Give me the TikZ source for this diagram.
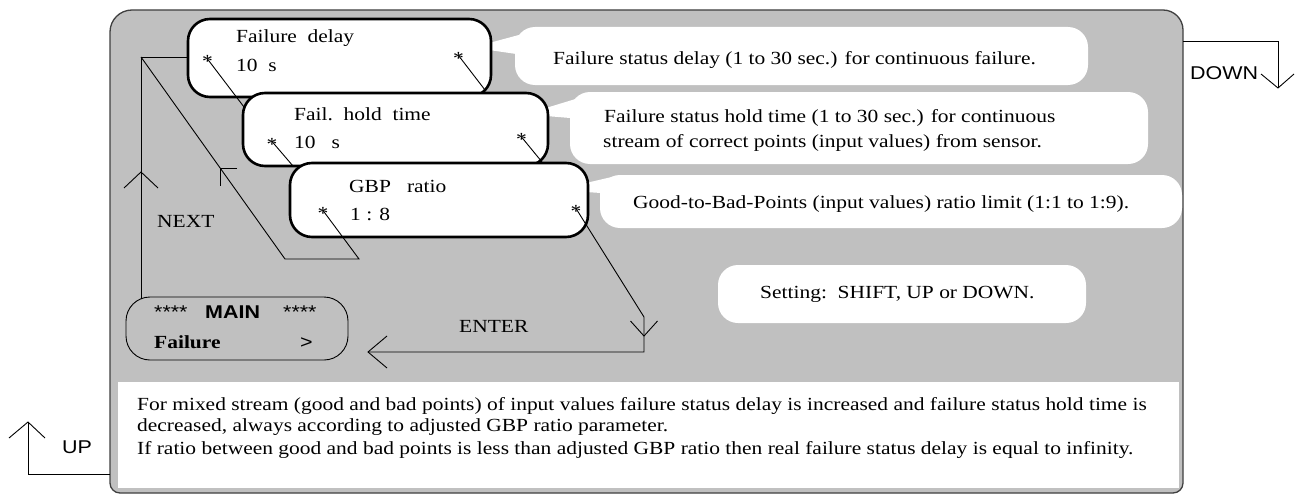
\documentclass[tikz,border=0pt]{standalone}
\usepackage{fontspec}
\setmainfont[FakeStretch=1.16]{Liberation Serif}
\setsansfont[FakeStretch=1.16]{Liberation Sans}
\usetikzlibrary{calc}
\definecolor{panelgray}{HTML}{C0C0C0}
\definecolor{edgegray}{HTML}{404040}
\begin{document}
\begin{tikzpicture}[x=1pt,y=-1pt,
  menubox/.style={draw=black,line width=2.6pt,fill=white,rounded corners=22pt,inner sep=0pt},
  mainbox/.style={draw=black,line width=0.9pt,rounded corners=24pt,inner sep=0pt},
  bubble/.style={fill=white,rounded corners=20pt,inner sep=0pt},
  notebox/.style={fill=white,inner sep=0pt},
  wire/.style={draw=black,line width=0.9pt},
  txt/.style={inner sep=0pt,anchor=base west,font=\fontsize{18.5}{22}\selectfont},
  stxt/.style={inner sep=0pt,anchor=base west,font=\sffamily\fontsize{18.5}{22}\selectfont},
  startxt/.style={inner sep=0pt,anchor=base,font=\fontsize{18.5}{22}\selectfont},
]
\useasboundingbox (0,0) rectangle (1301,495);
% outer panel
\path[fill=panelgray,draw=edgegray,line width=1.3pt] (600,10) [rounded corners=20pt] -- (1183,10) -- (1183,250) [rounded corners=10pt] -- (1183,493) -- (110,493) -- (110,250) [rounded corners=22pt] -- (110,10) -- cycle;
% bottom note
\node[notebox,minimum width=1061pt,minimum height=106pt] (note) at (648.5,435) {};
% callouts
\node[bubble,minimum width=573pt,minimum height=58pt] (c1) at (801.5,56) {};
\fill[white] (489,43) -- (530,32) -- (530,56) -- (489,50) -- cycle;
\node[bubble,minimum width=578pt,minimum height=72pt] (c2) at (859,128) {};
\fill[white] (546,108) -- (582,97) -- (582,119) -- (546,116) -- cycle;
\node[bubble,minimum width=582pt,minimum height=53pt] (c3) at (891,201.5) {};
\fill[white] (586,183) -- (616,176) -- (616,194) -- (586,192) -- cycle;
\node[bubble,minimum width=368pt,minimum height=58pt] (c4) at (902,294) {};
% menu boxes
\node[menubox,minimum width=303pt,minimum height=78pt] (fd) at (339.5,58) {};
\node[menubox,minimum width=305pt,minimum height=73pt] (fh) at (395.5,129.5) {};
\node[menubox,minimum width=298pt,minimum height=74pt] (gbp) at (439,200) {};
\node[mainbox,minimum width=222pt,minimum height=63pt] (main) at (237,328.5) {};
% star marks (centres)
\coordinate (s1L) at (207.5,59);
\coordinate (s1R) at (458.5,55.5);
\coordinate (s2L) at (272,141.5);
\coordinate (s2R) at (521.5,137);
\coordinate (s3L) at (323,210.5);
\coordinate (s3R) at (576,208.5);
\coordinate (e1L) at (244,107);
\coordinate (e1R) at (485,90);
\coordinate (e2L) at (293,166);
\coordinate (e2R) at (542,162);
\coordinate (e3L) at (359,259);
\coordinate (gbpcorner) at (285,259);
\coordinate (nextcorner) at (141,57);
\coordinate (nextfoot) at (141,299);
\coordinate (nexttip) at (141,172);
\coordinate (ent1) at (644,317);
\coordinate (ent2) at (644,352);
\coordinate (entend) at (368,352);
\coordinate (enttip) at (644,336);
\coordinate (dn0) at (1183,41);
\coordinate (dn1) at (1278,41);
\coordinate (dn2) at (1278,88);
\coordinate (up0) at (110,474);
\coordinate (up1) at (28,474);
\coordinate (up2) at (28,422);
% connectors
\draw[wire] (s1L) -- (e1L);
\draw[wire] (s1R) -- (e1R);
\draw[wire] (s2L) -- (e2L);
\draw[wire] (s2R) -- (e2R);
\draw[wire] (s3L) -- (e3L) -- (gbpcorner) -- (nextcorner);
\coordinate (dtip) at ($(nextcorner)!0.55!(gbpcorner)$);
\draw[wire] ($(dtip)+(17,0)$) -- (dtip) -- ($(dtip)+(0,18)$);
\draw[wire] (nextfoot) -- (nextcorner) -- (fd.west |- nextcorner);
\draw[wire] ($(nexttip)+(-17,16)$) -- (nexttip) -- ($(nexttip)+(17,16)$);
\draw[wire] (s3R) -- (ent1) -- (ent2) -- (entend);
\draw[wire] ($(enttip)+(-13.5,-15)$) -- (enttip) -- ($(enttip)+(13.5,-15)$);
\draw[wire] ($(entend)+(19,-16)$) -- (entend) -- ($(entend)+(19,16)$);
\draw[wire] (dn0) -- (dn1) -- (dn2);
\draw[wire] ($(dn2)+(-17,-14)$) -- (dn2) -- ($(dn2)+(16,-14)$);
\draw[wire] (up0) -- (up1) -- (up2);
\draw[wire] ($(up2)+(-19,16)$) -- (up2) -- ($(up2)+(17,16)$);
% stars
\foreach \s in {s1L,s1R,s2L,s2R,s3L,s3R} {
  \node[startxt] (\s t) at ($(\s)+(0,8.7)$) {*};
}
% box texts
\node[txt] (t1a) at (236,43) {Failure~~delay};
\node[txt] (t1b) at (236,72) {10~~s};
\node[txt] (t2a) at (294,120) {Fail.~~hold~~time};
\node[txt] (t2b) at (294,148) {10~~~s};
\node[txt] (t3a) at (349,192) {GBP~~~ratio};
\node[txt] (t3b) at (350,220) {1 : 8};
% callout texts
\node[txt] (c1t) at (553,65) {Failure status delay (1 to 30 sec.) for continuous failure.};
\node[txt] (c2t) at (604,122) {Failure status hold time (1 to 30 sec.) for continuous};
\node[txt] (c2u) at (603,147) {stream of correct points (input values) from sensor.};
\node[txt] (c3t) at (633,208) {Good-to-Bad-Points (input values) ratio limit (1:1 to 1:9).};
\node[txt] (c4t) at (760,298) {Setting:~~SHIFT, UP or DOWN.};
% labels
\node[txt] (enter) at (459,332) {ENTER};
\node[txt] (next) at (157,227) {NEXT};
\node[stxt] (down) at (1190,80) {DOWN};
\node[stxt] (up) at (62,453) {UP};
% main box texts
\node[stxt] (m1) at (154,318) {****};
\node[stxt,font=\sffamily\bfseries\fontsize{18.5}{22}\selectfont] (m2) at (205,318) {MAIN};
\node[stxt] (m3) at (283,318) {****};
\node[txt,font=\bfseries\fontsize{18.5}{22}\selectfont] (m4) at (154,348) {Failure};
\node[stxt] (m5) at (300,348) {>};
% note texts
\node[txt] (n1) at (137,410) {For mixed stream (good and bad points) of input values failure status delay is increased and failure status hold time is};
\node[txt] (n2) at (137,431) {decreased, always according to adjusted GBP ratio parameter.};
\node[txt] (n3) at (137,454) {If ratio between good and bad points is less than adjusted GBP ratio then real failure status delay is equal to infinity.};
\end{tikzpicture}
\end{document}
